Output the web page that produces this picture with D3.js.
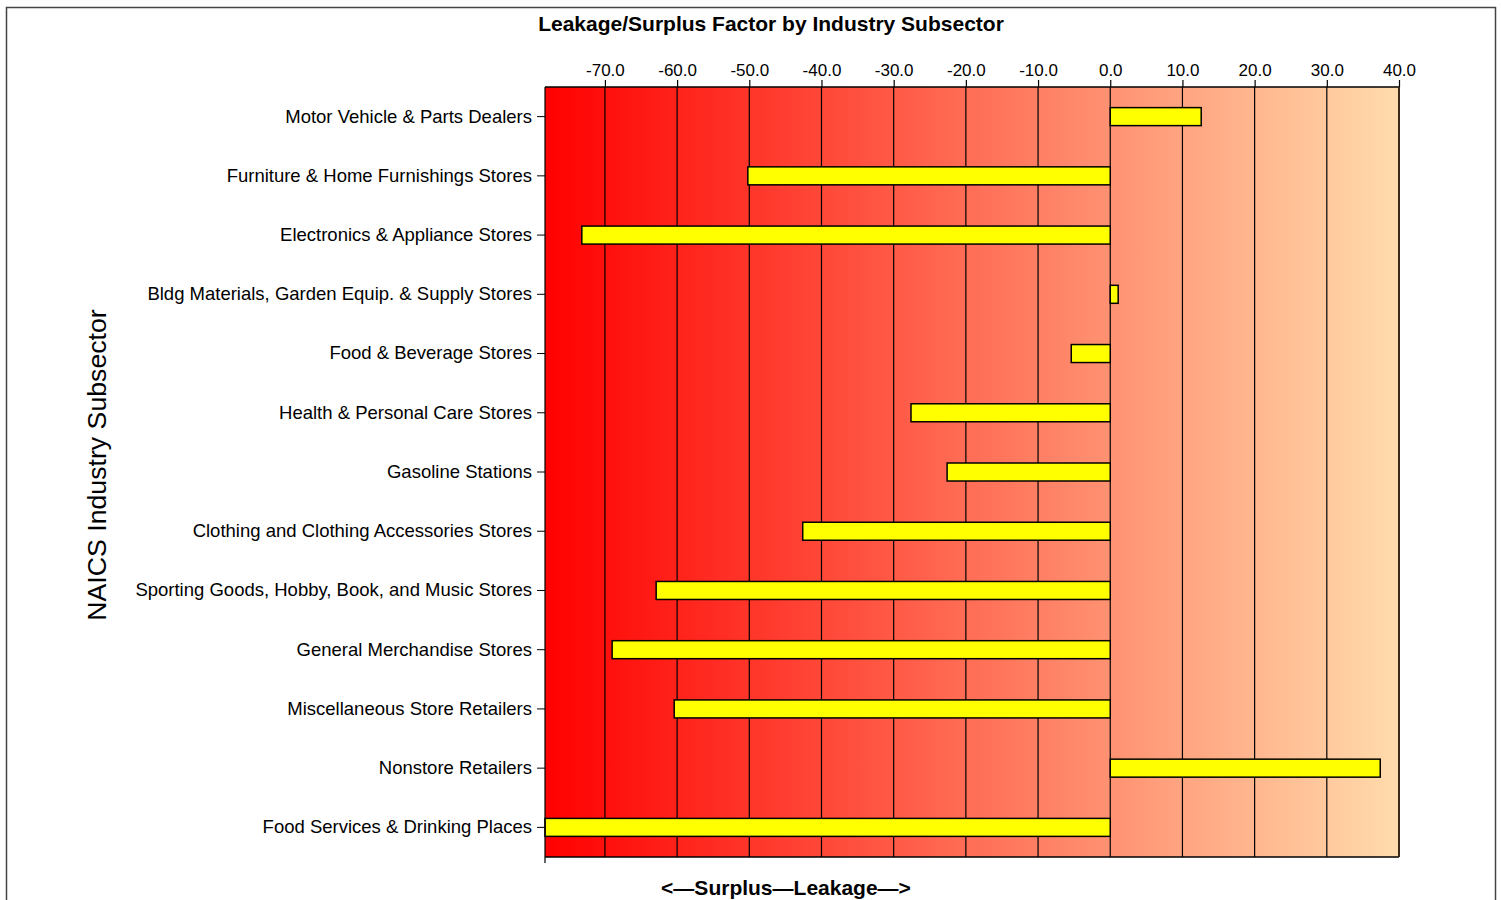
<!DOCTYPE html>
<html><head><meta charset="utf-8">
<script src="https://cdn.jsdelivr.net/npm/d3@7"></script>
<style>body{margin:0;background:#fff;} text{font-family:"Liberation Sans",Arial,sans-serif;}</style>
</head><body>
<svg id="c" width="1501" height="900"></svg>
<script>
const categories = ["Motor Vehicle & Parts Dealers","Furniture & Home Furnishings Stores","Electronics & Appliance Stores","Bldg Materials, Garden Equip. & Supply Stores","Food & Beverage Stores","Health & Personal Care Stores","Gasoline Stations","Clothing and Clothing Accessories Stores","Sporting Goods, Hobby, Book, and Music Stores","General Merchandise Stores","Miscellaneous Store Retailers","Nonstore Retailers","Food Services & Drinking Places"];
const values = [12.6,-50.2,-73.2,1.1,-5.4,-27.6,-22.6,-42.6,-62.9,-69.0,-60.4,37.4,-78.3];
const tickValues = [-70,-60,-50,-40,-30,-20,-10,0,10,20,30,40];
const title = "Leakage/Surplus Factor by Industry Subsector";
const xLabel = "<\u2014Surplus\u2014Leakage\u2014>";
const yLabel = "NAICS Industry Subsector";

const svg = d3.select("#c");
const L=545, R=1399, T=87, B=857;
svg.append("rect").attr("x",6.5).attr("y",7.5).attr("width",1489).attr("height",900).attr("fill","none").attr("stroke","#444").attr("stroke-width",1.5);

const x = d3.scaleLinear().domain([d3.min(values),40]).range([L,R]);
const y = d3.scaleBand().domain(categories).range([T,B]);

const defs = svg.append("defs");
const g = defs.append("linearGradient").attr("id","bg").attr("x1","0").attr("x2","1").attr("y1","0").attr("y2","0");
g.append("stop").attr("offset","0").attr("stop-color","#FF0000");
g.append("stop").attr("offset","1").attr("stop-color","#FFDCAC");
svg.append("rect").attr("x",L).attr("y",T).attr("width",R-L).attr("height",B-T).attr("fill","url(#bg)");

// gridlines
svg.append("g").selectAll("line").data(tickValues).join("line")
  .attr("x1",d=>x(d)).attr("x2",d=>x(d)).attr("y1",T).attr("y2",B)
  .attr("stroke","#000").attr("stroke-width",1.2);

// bars
svg.append("g").selectAll("rect").data(values).join("rect")
  .attr("x",d=>x(Math.min(0,d))).attr("width",d=>Math.abs(x(d)-x(0)))
  .attr("y",(d,i)=>y(categories[i])+y.bandwidth()/2-9).attr("height",18)
  .attr("fill","#FFFF00").attr("stroke","#000").attr("stroke-width",1.5);

// frame
svg.append("line").attr("x1",L).attr("x2",R).attr("y1",T).attr("y2",T).attr("stroke","#000").attr("stroke-width",1.5);
svg.append("line").attr("x1",L).attr("x2",R).attr("y1",B).attr("y2",B).attr("stroke","#000").attr("stroke-width",1.5);
svg.append("line").attr("x1",R).attr("x2",R).attr("y1",T).attr("y2",B).attr("stroke","#3a2a1a").attr("stroke-width",2);

// top axis
const fmt = d => d3.format(".1f")(d).replace("\u2212","-");
const xa = svg.append("g").attr("transform",`translate(0,${T})`)
  .call(d3.axisTop(x).tickValues(tickValues).tickFormat(fmt).tickSize(7).tickSizeOuter(0));
xa.select(".domain").remove();
xa.selectAll("text").attr("font-size",17).attr("fill","#000").attr("dy","-0.05em");
xa.selectAll("line").attr("stroke-width",1.2);

// left axis
const ya = svg.append("g").attr("transform",`translate(${L},0)`)
  .call(d3.axisLeft(y).tickSize(8).tickSizeOuter(0).tickPadding(5));
ya.select(".domain").attr("d",`M0,${T}V${B+6}`).attr("stroke-width",1.2);
ya.selectAll("text").attr("font-size",18.5).attr("fill","#000");

svg.append("text").attr("x",771).attr("y",31).attr("text-anchor","middle").attr("font-weight","bold").attr("font-size",21).text(title);
svg.append("text").attr("x",786).attr("y",895).attr("text-anchor","middle").attr("font-weight","bold").attr("font-size",21).text(xLabel);
svg.append("text").attr("transform","translate(106,465) rotate(-90)").attr("text-anchor","middle").attr("font-size",26.7).text(yLabel);
</script>
</body></html>
